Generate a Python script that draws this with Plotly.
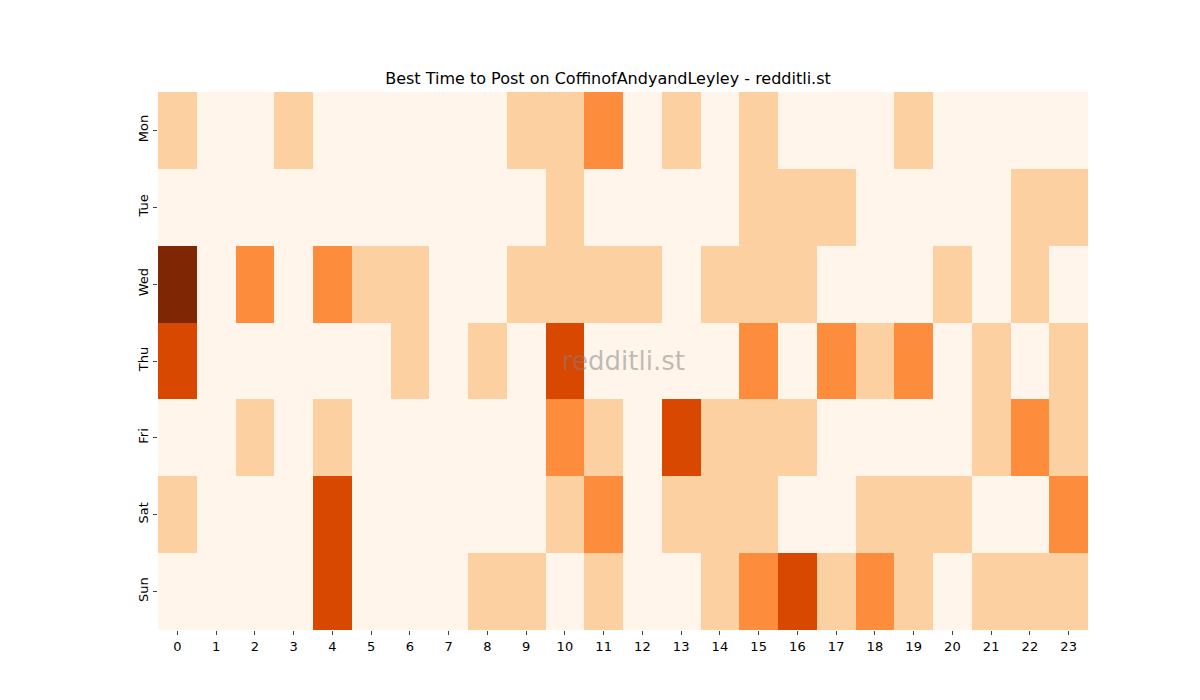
import plotly.graph_objects as go

days = ["Mon", "Tue", "Wed", "Thu", "Fri", "Sat", "Sun"]
hours = list(range(24))
mon = [1,0,0,1,0,0,0,0,0,1,1,2,0,1,0,1,0,0,0,1,0,0,0,0]
tue = [0,0,0,0,0,0,0,0,0,0,1,0,0,0,0,1,1,1,0,0,0,0,1,1]
wed = [4,0,2,0,2,1,1,0,0,1,1,1,1,0,1,1,1,0,0,0,1,0,1,0]
thu = [3,0,0,0,0,0,1,0,1,0,3,0,0,0,0,2,0,2,1,2,0,1,0,1]
fri = [0,0,1,0,1,0,0,0,0,0,2,1,0,3,1,1,1,0,0,0,0,1,2,1]
sat = [1,0,0,0,3,0,0,0,0,0,1,2,0,1,1,1,0,0,1,1,1,0,0,2]
sun = [0,0,0,0,3,0,0,0,1,1,0,1,0,0,1,2,3,1,2,1,0,1,1,1]
z = [mon, tue, wed, thu, fri, sat, sun]

cols = ["#fff5eb", "#fdd0a2", "#fd8d3c", "#d94801", "#7f2704"]
cs = []
for i, c in enumerate(cols):
    cs.append([i/5, c]); cs.append([(i+1)/5, c])

fig = go.Figure(go.Heatmap(z=z, x=hours, y=days, colorscale=cs, zmin=-0.5, zmax=4.5,
                           showscale=False, xgap=0, ygap=0))
fig.update_layout(
    width=1200, height=700, plot_bgcolor="white", paper_bgcolor="white",
    margin=dict(l=150, r=120, t=84, b=78),
    title=dict(text="Best Time to Post on CoffinofAndyandLeyley - redditli.st", x=0.5, xanchor="center",
               y=1-70/700, yanchor="middle", font=dict(family="DejaVu Sans", size=16, color="black")),
    font=dict(family="DejaVu Sans", size=13, color="black"),
    xaxis=dict(tickmode="array", tickvals=hours, ticks="outside", ticklen=4, showgrid=False, zeroline=False),
    yaxis=dict(autorange="reversed", ticks="outside", ticklen=4, tickangle=-90, showgrid=False, zeroline=False),
    annotations=[dict(text="redditli.st", x=0.5, y=0.5, xref="paper", yref="paper", showarrow=False,
                      font=dict(size=26, color="rgba(128,128,128,0.5)", family="DejaVu Sans"))],
)
fig.write_html("out.html")
